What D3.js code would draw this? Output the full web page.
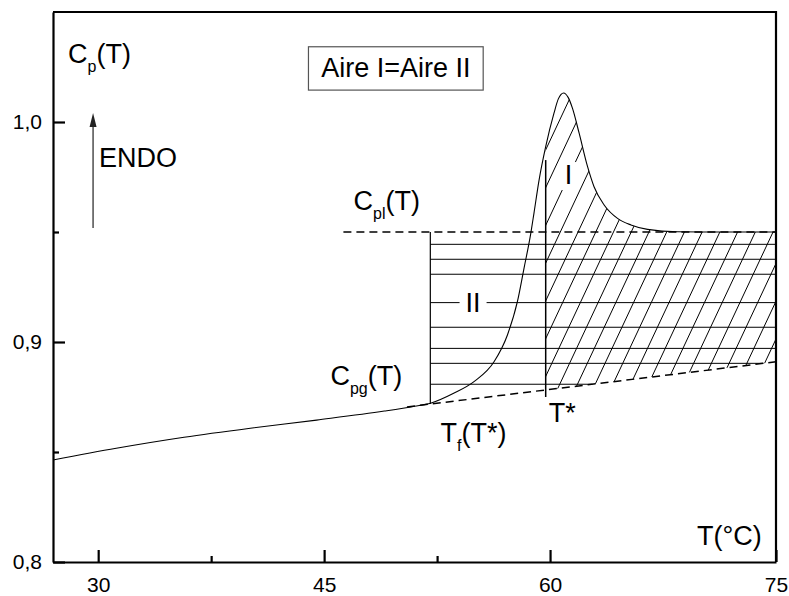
<!DOCTYPE html>
<html>
<head>
<meta charset="utf-8">
<script src="https://cdn.jsdelivr.net/npm/d3@7"></script>
<style>
  body { margin: 0; background: #fff; }
  svg { display: block; font-family: "Liberation Sans", Arial, sans-serif; }
</style>
</head>
<body>
<div id="chart"></div>
<script>
// Measured curve Cp(T)
const curveT  = [27, 31.2, 35.7, 40.1, 44.5, 49, 51, 52.07, 53.6, 54.95, 56.28, 57.17, 57.83, 58.27, 58.72, 58.93, 59.27, 59.71, 60.26, 60.55, 60.9, 61.2, 61.49, 61.93, 62.49, 62.92, 63.59, 64.48, 65.37, 66.47, 68.47, 71, 75];
const curveCp = [0.8464, 0.8517, 0.8567, 0.8608, 0.8645, 0.8686, 0.8708, 0.8722, 0.8767, 0.8820, 0.8910, 0.9032, 0.9183, 0.9335, 0.9494, 0.9585, 0.9736, 0.9888, 1.0040, 1.0105, 1.0132, 1.0112, 1.0062, 0.9949, 0.9797, 0.9706, 0.9623, 0.9562, 0.9532, 0.9512, 0.9501, 0.9500, 0.9500];

// glass baseline (dashed) and liquid level (dashed)
const baseT = [50.5, 75];
const baseCp = [0.8705, 0.891];
const liqT = [46.28, 75];
const liqCp = 0.95;

const tF = 52.05;      // Tf(T*)
const tStar = 59.71;   // T*
const tStarTop = 0.9827;
const tStarBottom = 0.875;

// horizontal hatch levels (area II)
const hLevels = [0.9444, 0.9376, 0.9308, 0.9179, 0.9067, 0.8971, 0.8903, 0.8808];

const xMajor = [30, 45, 60, 75];
const xMinor = [37.5, 52.5];
const yMajor = [0.8, 0.9, 1.0];
const yMinor = [0.85, 0.95];

const width = 789, height = 596;
const marginTop = 12, marginRight = 13, marginBottom = 34, marginLeft = 53;
const fontSize = 27, subSize = 16;

const x = d3.scaleLinear().domain([27, 75]).range([marginLeft, width - marginRight]);
const y = d3.scaleLinear().domain([0.8, 1.05]).range([height - marginBottom, marginTop]);
const base = d3.scaleLinear().domain(baseT).range(baseCp);

const curveData = curveT.map((t, i) => ({T: t, cp: curveCp[i]}));

const svg = d3.select("#chart").append("svg")
    .attr("width", width).attr("height", height)
    .attr("viewBox", [0, 0, width, height]);

const defs = svg.append("defs");
defs.append("clipPath").attr("id", "rightOfTstar")
  .append("rect")
    .attr("x", x(tStar)).attr("y", y(1.05))
    .attr("width", x(75) - x(tStar)).attr("height", y(0.8) - y(1.05));

defs.append("clipPath").attr("id", "areaI")
  .append("path")
    .attr("d", d3.area()
      .x(d => x(d.T))
      .y0(d => y(base(d.T)))
      .y1(d => y(d.cp))
      .curve(d3.curveMonotoneX)(curveData.filter(d => d.T >= 50)));

// diagonal hatching (area I)
const hatchStep = 1.177;
const hatchSlope = 2.13;
const hatchLow = 0.86, hatchHigh = 1.03;
svg.append("g").attr("clip-path", "url(#rightOfTstar)")
  .append("g").attr("clip-path", "url(#areaI)")
  .selectAll("line")
  .data(d3.range(49.8, 82, hatchStep))
  .join("line")
    .attr("x1", d => x(d))
    .attr("y1", y(hatchLow))
    .attr("x2", d => x(d) + (y(hatchLow) - y(hatchHigh)) / hatchSlope)
    .attr("y2", y(hatchHigh))
    .attr("stroke", "#000").attr("stroke-width", 1);

// horizontal hatching (area II)
svg.append("g").selectAll("line")
  .data(hLevels)
  .join("line")
    .attr("x1", x(tF))
    .attr("x2", d => x(Math.min(75, base.invert(d))))
    .attr("y1", d => y(d))
    .attr("y2", d => y(d))
    .attr("stroke", "#000").attr("stroke-width", 1);

// vertical lines
svg.append("line")
    .attr("x1", x(tF)).attr("x2", x(tF))
    .attr("y1", y(liqCp)).attr("y2", y(base(tF)))
    .attr("stroke", "#000").attr("stroke-width", 1.2);
svg.append("line")
    .attr("x1", x(tStar)).attr("x2", x(tStar))
    .attr("y1", y(tStarTop)).attr("y2", y(tStarBottom))
    .attr("stroke", "#000").attr("stroke-width", 1.5);

// dashed lines
svg.append("line")
    .attr("x1", x(baseT[0])).attr("x2", x(baseT[1]))
    .attr("y1", y(baseCp[0])).attr("y2", y(baseCp[1]))
    .attr("stroke", "#000").attr("stroke-width", 1.5)
    .attr("stroke-dasharray", "8,5");
svg.append("line")
    .attr("x1", x(liqT[0])).attr("x2", x(liqT[1]))
    .attr("y1", y(liqCp)).attr("y2", y(liqCp))
    .attr("stroke", "#000").attr("stroke-width", 1.5)
    .attr("stroke-dasharray", "8,5");

// main curve
svg.append("path")
    .datum(curveData)
    .attr("fill", "none").attr("stroke", "#000").attr("stroke-width", 1.1)
    .attr("d", d3.line().x(d => x(d.T)).y(d => y(d.cp)).curve(d3.curveMonotoneX));

// axes
const fmtY = d => d3.format(".1f")(d).replace(".", ",");
svg.append("g")
    .attr("transform", `translate(0,${y(0.8)})`)
    .call(d3.axisBottom(x).tickValues(xMajor).tickSizeInner(-12).tickSizeOuter(0).tickPadding(15).tickFormat(d3.format("d")));
svg.append("g")
    .attr("transform", `translate(0,${y(0.8)})`)
    .call(d3.axisBottom(x).tickValues(xMinor).tickSizeInner(-6).tickSizeOuter(0).tickFormat(""))
    .call(g => g.select(".domain").remove());
svg.append("g")
    .attr("transform", `translate(${x(27)},0)`)
    .call(d3.axisLeft(y).tickValues(yMajor).tickSizeInner(-12).tickSizeOuter(0).tickPadding(11).tickFormat(fmtY));
svg.append("g")
    .attr("transform", `translate(${x(27)},0)`)
    .call(d3.axisLeft(y).tickValues(yMinor).tickSizeInner(-6).tickSizeOuter(0).tickFormat(""))
    .call(g => g.select(".domain").remove());

svg.selectAll(".tick line").attr("stroke-width", 2.2);
svg.selectAll(".domain").attr("stroke-width", 2.2);
svg.selectAll(".tick text").attr("font-size", 21).attr("font-family", "Liberation Sans, Arial, sans-serif").attr("fill", "#000");

// top and right frame
svg.append("path")
    .attr("d", `M${x(27)},${y(1.05)}H${x(75)}V${y(0.8)}`)
    .attr("fill", "none").attr("stroke", "#000").attr("stroke-width", 2.2);

// ENDO arrow
const arrowT = 29.66;
svg.append("line")
    .attr("x1", x(arrowT)).attr("x2", x(arrowT))
    .attr("y1", y(0.9518)).attr("y2", y(0.998))
    .attr("stroke", "#333").attr("stroke-width", 1.3);
svg.append("path")
    .attr("d", `M${x(arrowT)},${y(1.0041)}l-3.5,14h7z`)
    .attr("fill", "#222");

// labels with subscripts
function label(T, cp, parts, size = fontSize) {
  const t = svg.append("text")
      .attr("x", x(T)).attr("y", y(cp))
      .attr("font-size", size).attr("fill", "#000");
  let shift = 0;
  parts.forEach(p => {
    const sub = p.sub === true;
    const dy = sub ? 9 - shift : -shift;
    shift = sub ? 9 : 0;
    t.append("tspan").text(p.t)
      .attr("dy", dy)
      .attr("font-size", sub ? subSize : size);
  });
  return t;
}

label(28.0, 1.0268, [{t: "C"}, {t: "p", sub: true}, {t: "(T)"}]);
label(30.06, 0.9795, [{t: "ENDO"}]);
label(46.95, 0.96, [{t: "C"}, {t: "pl", sub: true}, {t: "(T)"}]);
label(45.42, 0.8805, [{t: "C"}, {t: "pg", sub: true}, {t: "(T)"}]);
label(52.73, 0.8545, [{t: "T"}, {t: "f", sub: true}, {t: "(T*)"}]);
label(59.91, 0.8636, [{t: "T*"}]);
label(69.75, 0.8077, [{t: "T(°C)"}]);

// area labels with white background that interrupts hatching
function areaLabel(T, cp, txt) {
  const g = svg.append("g");
  const t = g.append("text").attr("x", x(T)).attr("y", y(cp))
      .attr("font-size", fontSize).attr("fill", "#000").text(txt);
  const b = t.node().getBBox();
  g.insert("rect", "text")
      .attr("x", b.x - 6).attr("y", b.y + 2)
      .attr("width", b.width + 12).attr("height", b.height - 2)
      .attr("fill", "#fff");
}
areaLabel(54.39, 0.9136, "II");
areaLabel(60.98, 0.9718, "I");

// boxed legend text
svg.append("rect")
    .attr("x", x(43.96)).attr("y", y(1.0342))
    .attr("width", x(55.56) - x(43.96)).attr("height", y(1.0145) - y(1.0342))
    .attr("fill", "#fff").attr("stroke", "#555").attr("stroke-width", 1.2);
svg.append("text")
    .attr("x", (x(43.96) + x(55.56)) / 2).attr("y", y(1.0206))
    .attr("text-anchor", "middle")
    .attr("font-size", fontSize).attr("fill", "#000")
    .text("Aire I=Aire II");
</script>
</body>
</html>
